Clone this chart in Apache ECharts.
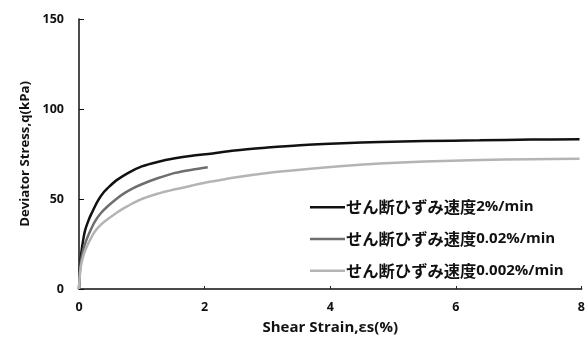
<!DOCTYPE html>
<html>
<head>
<meta charset="utf-8">
<script src="https://cdn.jsdelivr.net/npm/echarts@6/dist/echarts.min.js"></script>
<style>html,body{margin:0;padding:0;background:#fff;}#c{width:588px;height:340px;}</style>
</head>
<body>
<div id="c"></div>
<script>
var seriesNames = ['せん断ひずみ速度2%/min', 'せん断ひずみ速度0.02%/min', 'せん断ひずみ速度0.002%/min'];
var strain2 = [0, 0.01, 0.02, 0.04, 0.07, 0.1, 0.15, 0.2, 0.3, 0.4, 0.5, 0.6, 0.8, 1.0, 1.25, 1.53, 1.8, 2.06, 2.48, 3.0, 3.52, 4.2, 4.79, 5.5, 6.38, 7.2, 7.97];
var stress2 = [0, 8, 14, 21, 28, 33, 38, 42, 49, 54, 57.5, 60.5, 64.8, 68.1, 70.6, 72.6, 74.0, 75.0, 77.0, 78.6, 79.9, 81.0, 81.7, 82.2, 82.6, 83.0, 83.2];
var strain002 = [0, 0.01, 0.02, 0.04, 0.07, 0.1, 0.15, 0.25, 0.35, 0.47, 0.6, 0.73, 0.85, 1.0, 1.25, 1.53, 1.8, 2.05];
var stress002 = [0, 7, 12, 17, 22, 25.5, 30, 37.3, 42.2, 46.4, 50.2, 53.4, 55.8, 58.2, 61.5, 64.5, 66.3, 67.7];
var strain0002 = [0, 0.01, 0.02, 0.04, 0.07, 0.1, 0.15, 0.25, 0.35, 0.47, 0.6, 0.73, 0.85, 1.0, 1.25, 1.53, 1.8, 2.06, 2.48, 3.0, 3.52, 4.2, 4.79, 5.5, 6.38, 7.2, 7.97];
var stress0002 = [0, 6, 10, 14.5, 18.5, 21.5, 25.5, 31.8, 35.8, 39.1, 42.4, 45.2, 47.5, 50.0, 52.9, 55.4, 57.5, 59.4, 62.0, 64.5, 66.3, 68.3, 69.7, 70.8, 71.6, 72.1, 72.3];
var xTicks = [0, 2, 4, 6, 8];
var yTicks = [0, 50, 100, 150];

function pairs(xs, ys) { return xs.map(function (x, i) { return [x, ys[i]]; }); }
var FONT = 'Open Sans, Noto Sans CJK JP, sans-serif';
var JFONT = 'Noto Sans CJK JP, sans-serif';
var colors = ['#111111', '#6e6e6e', '#b4b4b4'];
var chart = echarts.init(document.getElementById('c'));
chart.setOption({
  animation: false,
  grid: { left: 79, right: 6, top: 19, bottom: 45 },
  legend: {
    orient: 'vertical', left: 305, top: 194,
    itemWidth: 35, itemHeight: 18, itemGap: 15.5,
    icon: 'path://M0,7.5 L35,7.5 L35,10 L0,10 Z',
    formatter: function (name) {
      var i = name.search(/[0-9]/);
      return '{j|' + name.slice(0, i) + '}{l|' + name.slice(i) + '}';
    },
    textStyle: {
      fontFamily: FONT, fontWeight: 'bold', fontSize: 15, color: '#111', padding: [0, 0, 0, -4],
      rich: {
        j: { fontFamily: JFONT, fontWeight: 'bold', fontSize: 16.3, color: '#111', lineHeight: 18 },
        l: { fontFamily: FONT, fontWeight: 'bold', fontSize: 15, color: '#111', lineHeight: 18 }
      }
    },
    data: seriesNames
  },
  xAxis: {
    type: 'value', min: xTicks[0], max: xTicks[xTicks.length - 1], interval: 2,
    name: 'Shear Strain,εs(%)', nameLocation: 'middle', nameGap: 31,
    nameTextStyle: { fontFamily: FONT, fontWeight: 'bold', fontSize: 15, color: '#111' },
    axisLine: { lineStyle: { color: '#4a4a4a', width: 2 } },
    axisTick: { inside: true, length: 3, lineStyle: { color: '#222' } },
    axisLabel: { margin: 12, fontFamily: FONT, fontWeight: 'bold', fontSize: 12.5, color: '#111' },
    splitLine: { show: false }
  },
  yAxis: {
    type: 'value', min: yTicks[0], max: yTicks[yTicks.length - 1], interval: 50,
    name: 'Deviator Stress,q(kPa)', nameLocation: 'middle', nameGap: 46,
    nameTextStyle: { fontFamily: FONT, fontWeight: 'bold', fontSize: 13.2, color: '#111' },
    axisLine: { show: true, lineStyle: { color: '#111', width: 1.5 } },
    axisTick: { show: true, inside: true, length: 5, lineStyle: { color: '#111' } },
    axisLabel: { margin: 15, fontFamily: FONT, fontWeight: 'bold', fontSize: 12.5, color: '#111' },
    splitLine: { show: false }
  },
  series: [
    { name: seriesNames[0], type: 'line', smooth: 0.3, showSymbol: false, data: pairs(strain2, stress2), lineStyle: { color: colors[0], width: 2.5 }, itemStyle: { color: colors[0] } },
    { name: seriesNames[1], type: 'line', smooth: 0.3, showSymbol: false, data: pairs(strain002, stress002), lineStyle: { color: colors[1], width: 2.5 }, itemStyle: { color: colors[1] } },
    { name: seriesNames[2], type: 'line', smooth: 0.3, showSymbol: false, data: pairs(strain0002, stress0002), lineStyle: { color: colors[2], width: 2.5 }, itemStyle: { color: colors[2] } }
  ]
});
</script>
</body>
</html>
